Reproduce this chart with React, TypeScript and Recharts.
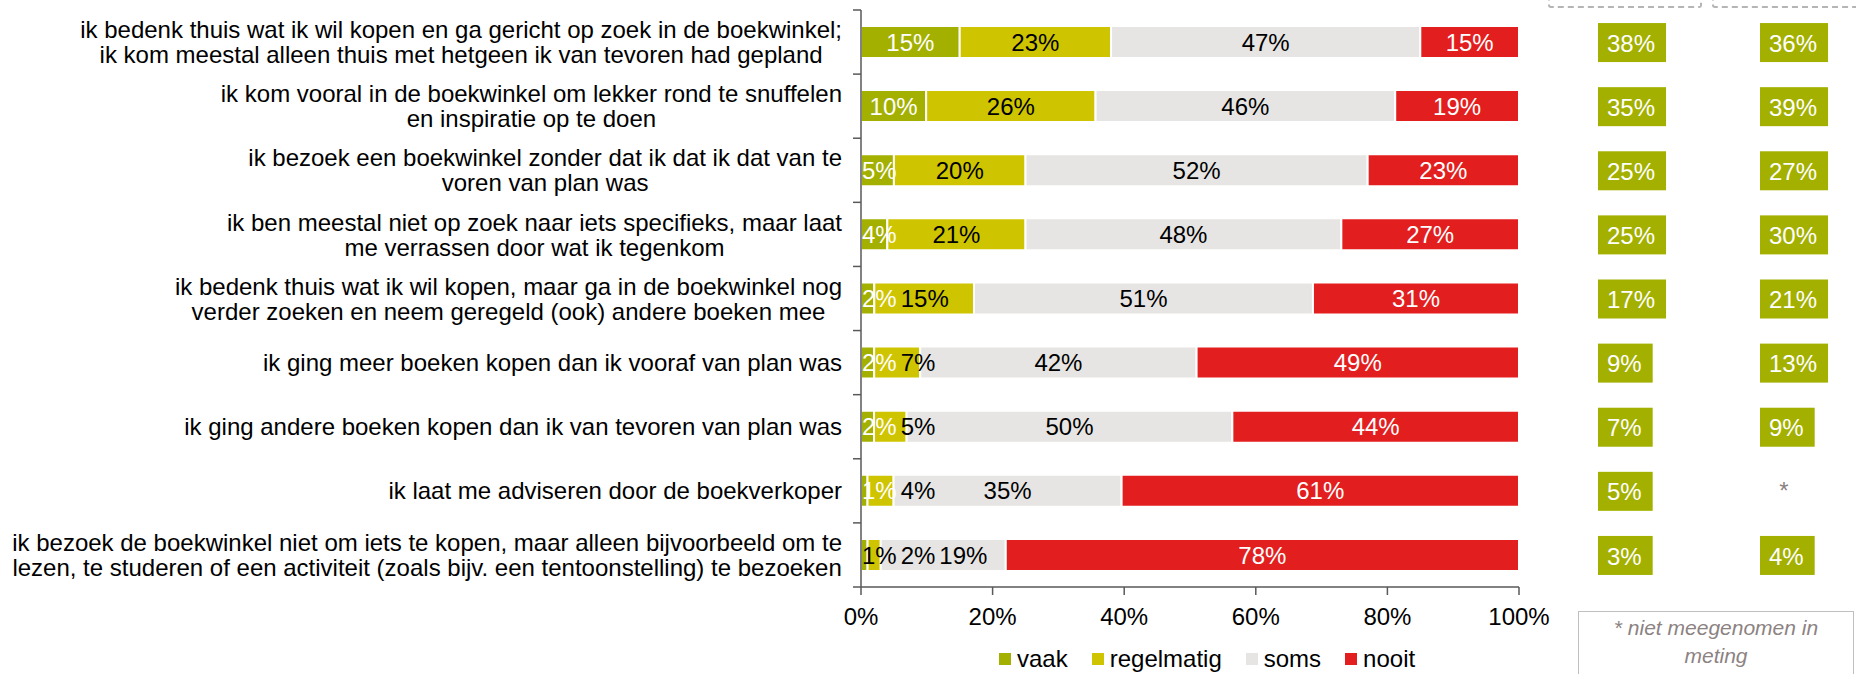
import React from "react";
import { BarChart, Bar, XAxis, YAxis, Legend, LabelList } from "recharts";

// statements (line breaks as in the original chart)
const categories = [
  "ik bedenk thuis wat ik wil kopen en ga gericht op zoek in de boekwinkel;\nik kom meestal alleen thuis met hetgeen ik van tevoren had gepland",
  "ik kom vooral in de boekwinkel om lekker rond te snuffelen\nen inspiratie op te doen",
  "ik bezoek een boekwinkel zonder dat ik dat ik dat van te\nvoren van plan was",
  "ik ben meestal niet op zoek naar iets specifieks, maar laat\nme verrassen door wat ik tegenkom",
  "ik bedenk thuis wat ik wil kopen, maar ga in de boekwinkel nog\nverder zoeken en neem geregeld (ook) andere boeken mee",
  "ik ging meer boeken kopen dan ik vooraf van plan was",
  "ik ging andere boeken kopen dan ik van tevoren van plan was",
  "ik laat me adviseren door de boekverkoper",
  "ik bezoek de boekwinkel niet om iets te kopen, maar alleen bijvoorbeeld om te\nlezen, te studeren of een activiteit (zoals bijv. een tentoonstelling) te bezoeken",
];

const vaak = [15, 10, 5, 4, 2, 2, 2, 1, 1];
const regelmatig = [23, 26, 20, 21, 15, 7, 5, 4, 2];
const soms = [47, 46, 52, 48, 51, 42, 50, 35, 19];
const nooit = [15, 19, 23, 27, 31, 49, 44, 61, 78];

// vaak + regelmatig, two earlier measurements (null = niet meegenomen)
const scoreA = [38, 35, 25, 25, 17, 9, 7, 5, 3];
const scoreB: (number | null)[] = [36, 39, 27, 30, 21, 13, 9, null, 4];

const seriesNames = ["vaak", "regelmatig", "soms", "nooit"];
const xTicks = [0, 0.2, 0.4, 0.6, 0.8, 1];

const series = [vaak, regelmatig, soms, nooit];
const data = categories.map((name, i) => ({
  name,
  vaak: vaak[i],
  regelmatig: regelmatig[i],
  soms: soms[i],
  nooit: nooit[i],
}));

const COLORS = ["#a3b000", "#cfc400", "#e6e5e3", "#e31e1e"];
const LABEL_COLORS = ["#ffffff", "#000000", "#000000", "#ffffff"];
const darkVaakRows = [8];
const AXIS = "#595959";
const FONT = '"Liberation Sans", Arial, sans-serif';

const W = 1856;
const H = 674;
const PLOT_TOP = 10;
const PLOT_BOTTOM = 587;
const BAND = (PLOT_BOTTOM - PLOT_TOP) / categories.length;
const COL_A = 1598;
const COL_B = 1760;

let ctx: CanvasRenderingContext2D | null = null;
function textWidth(s: string, size = 24) {
  if (!ctx) ctx = document.createElement("canvas").getContext("2d");
  if (!ctx) return s.length * size * 0.5;
  ctx.font = `${size}px ${FONT}`;
  return ctx.measureText(s).width;
}

// centre labels in their segment, keep them inside the plot and let them not overlap
function rowLabelCenters(row: number, x: number, width: number, k: number) {
  const vals = series.map((s) => s[row]);
  const sum = vals.reduce((a, b) => a + b, 0);
  const full = (width * sum) / vals[k];
  const before = vals.slice(0, k).reduce((a, b) => a + b, 0);
  const left0 = x - (before / sum) * full;
  let prevRight = -Infinity;
  let cum = 0;
  return vals.map((v) => {
    const c = left0 + ((cum + v / 2) / sum) * full;
    cum += v;
    const w = textWidth(v + "%");
    const l = Math.max(c - w / 2, left0 + 1, prevRight + 4);
    prevRight = l + w;
    return l + w / 2;
  });
}

const renderRowLabels = (props: any) => {
  const vb = props.viewBox && props.viewBox.width != null ? props.viewBox : props;
  const x = Number(vb.x);
  const y = Number(vb.y);
  const width = Number(vb.width);
  const height = Number(vb.height);
  const row = props.index;
  const centers = rowLabelCenters(row, x, width, 3);
  return (
    <g>
      {centers.map((cx, k) => (
        <text
          key={k}
          x={cx}
          y={y + height / 2}
          dy="0.36em"
          textAnchor="middle"
          fontSize={24}
          fontFamily={FONT}
          fill={k === 0 && darkVaakRows.includes(row) ? "#000" : LABEL_COLORS[k]}
        >
          {series[k][row]}%
        </text>
      ))}
    </g>
  );
};

function ScoreBox({ left, y, value }: { left: number; y: number; value: number | null }) {
  if (value == null) {
    return (
      <text x={left + 24} y={y} dy="0.36em" textAnchor="middle" fontSize={24} fontFamily={FONT} fill="#8c8282">
        *
      </text>
    );
  }
  const label = value + "%";
  const w = textWidth(label) + 20;
  return (
    <g>
      <rect x={left} y={y - 19} width={w} height={39} fill={COLORS[0]} />
      <text x={left + w / 2 - 1} y={y + 1} dy="0.36em" textAnchor="middle" fontSize={24} fontFamily={FONT} fill="#fff">
        {label}
      </text>
    </g>
  );
}

function CategoryTick(props: any) {
  const { x, y, payload } = props;
  const idx = payload.index ?? props.index;
  const lines = String(payload.value).split("\n");
  const blockW = Math.max(...lines.map((l) => textWidth(l)));
  const cx = x - 19 - blockW / 2;
  const lh = 25;
  const top = y - ((lines.length - 1) * lh) / 2;
  return (
    <g>
      <line x1={x - 8} x2={x} y1={y - BAND / 2} y2={y - BAND / 2} stroke={AXIS} strokeWidth={1.5} />
      {idx === categories.length - 1 && (
        <line x1={x - 8} x2={x} y1={y + BAND / 2} y2={y + BAND / 2} stroke={AXIS} strokeWidth={1.5} />
      )}
      <text textAnchor="middle" fontSize={24} fontFamily={FONT} fill="#000">
        {lines.map((l, i) => (
          <tspan key={i} x={cx} y={top + i * lh} dy="0.36em">
            {l}
          </tspan>
        ))}
      </text>
      <ScoreBox left={COL_A} y={y} value={scoreA[idx]} />
      <ScoreBox left={COL_B} y={y} value={scoreB[idx]} />
    </g>
  );
}

const renderLegend = () => (
  <div
    style={{
      display: "flex",
      alignItems: "center",
      height: 30,
      paddingLeft: 999,
      fontFamily: FONT,
      fontSize: 24,
      color: "#000",
    }}
  >
    {seriesNames.map((n, i) => (
      <div key={n} style={{ display: "flex", alignItems: "center", marginRight: 24 }}>
        <span style={{ width: 12, height: 12, background: COLORS[i], marginRight: 6, display: "inline-block" }} />
        {n}
      </div>
    ))}
  </div>
);

export default function App() {
  return (
    <div style={{ position: "absolute", left: 0, top: 0, width: W, height: H, overflow: "hidden", background: "#fff" }}>
      <BarChart
        width={W}
        height={H}
        data={data}
        layout="vertical"
        stackOffset="expand"
        barSize={32}
        margin={{ top: PLOT_TOP, right: 337, bottom: 0, left: 0 }}
      >
        <XAxis
          type="number"
          domain={[0, 1]}
          ticks={xTicks}
          tickFormatter={(v: number) => Math.round(v * 100) + "%"}
          height={57}
          tickSize={8}
          tickMargin={13}
          axisLine={{ stroke: AXIS, strokeWidth: 1.5 }}
          tickLine={{ stroke: AXIS, strokeWidth: 1.5 }}
          tick={{ fill: "#000", fontSize: 24, fontFamily: FONT }}
        />
        <YAxis
          type="category"
          dataKey="name"
          width={861}
          interval={0}
          tickLine={false}
          tickSize={0}
          tickMargin={0}
          axisLine={{ stroke: AXIS, strokeWidth: 1.5 }}
          tick={<CategoryTick />}
        />
        <Legend verticalAlign="bottom" content={renderLegend} wrapperStyle={{ left: 0, width: W }} />
        <Bar dataKey="vaak" stackId="a" fill={COLORS[0]} stroke="#fff" strokeWidth={2} isAnimationActive={false} />
        <Bar dataKey="regelmatig" stackId="a" fill={COLORS[1]} stroke="#fff" strokeWidth={2} isAnimationActive={false} />
        <Bar dataKey="soms" stackId="a" fill={COLORS[2]} stroke="#fff" strokeWidth={2} isAnimationActive={false} />
        <Bar dataKey="nooit" stackId="a" fill={COLORS[3]} stroke="#fff" strokeWidth={2} isAnimationActive={false}>
          <LabelList dataKey="nooit" content={renderRowLabels} />
        </Bar>
      </BarChart>

      {/* header boxes, cut off at the top */}
      <div style={{ position: "absolute", left: 1548, top: -30, width: 150, height: 34, border: "2px dashed #b5b5b5", borderRadius: 3 }} />
      <div style={{ position: "absolute", left: 1712, top: -30, width: 170, height: 34, border: "2px dashed #b5b5b5", borderRadius: 3 }} />

      <div
        style={{
          position: "absolute",
          left: 1578,
          top: 611,
          width: 276,
          height: 70,
          border: "1px solid #bfbfbf",
          fontFamily: FONT,
          fontStyle: "italic",
          fontSize: 21,
          lineHeight: "28px",
          color: "#8c8282",
          textAlign: "center",
          paddingTop: 2,
          boxSizing: "border-box",
        }}
      >
        * niet meegenomen in
        <br />
        meting
      </div>
    </div>
  );
}
